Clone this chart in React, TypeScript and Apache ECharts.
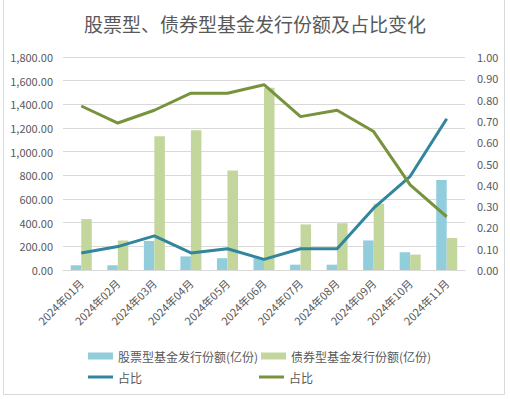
import React, { useEffect, useRef } from "react";
import * as echarts from "echarts";

const categories = [
  "2024年01月", "2024年02月", "2024年03月", "2024年04月", "2024年05月", "2024年06月",
  "2024年07月", "2024年08月", "2024年09月", "2024年10月", "2024年11月",
];
const stockShares = [40, 40, 245, 115, 100, 100, 45, 45, 250, 150, 760];
const bondShares = [430, 250, 1130, 1180, 840, 1540, 385, 395, 560, 130, 270];
const stockRatio = [0.08, 0.11, 0.16, 0.08, 0.1, 0.05, 0.1, 0.1, 0.29, 0.44, 0.71];
const bondRatio = [0.77, 0.69, 0.75, 0.83, 0.83, 0.87, 0.72, 0.75, 0.65, 0.4, 0.25];

const titleText = "股票型、债券型基金发行份额及占比变化";
const stockName = "股票型基金发行份额(亿份)";
const bondName = "债券型基金发行份额(亿份)";
const stockRatioName = "股票型占比";
const bondRatioName = "债券型占比";

const FONT = "'Noto Sans CJK SC', 'Noto Sans', sans-serif";
const TXT = "#595959";

export default function App() {
  const ref = useRef<HTMLDivElement>(null);
  useEffect(() => {
    document.body.style.margin = "0";
    const chart = echarts.init(ref.current!, null, { renderer: "svg" });
    const legendCommon = {
      padding: 0,
      itemWidth: 25,
      textStyle: { color: TXT, fontSize: 12, fontFamily: FONT },
      formatter: (n: string) => (n === stockRatioName || n === bondRatioName ? "占比" : n),
      selectedMode: false,
    };
    chart.setOption({
      animation: false,
      textStyle: { fontFamily: FONT },
      title: {
        text: titleText,
        left: "center",
        top: 14,
        padding: 0,
        textStyle: { color: TXT, fontSize: 19, fontWeight: "normal", fontFamily: FONT },
      },
      graphic: [
        {
          type: "rect",
          shape: { x: 3.5, y: -5, width: 501, height: 399.5 },
          style: { fill: "none", stroke: "#D9D9D9", lineWidth: 1 },
          silent: true,
        },
      ],
      legend: [
        { ...legendCommon, data: [{ name: stockName, icon: "rect" }], left: 88, top: 350, itemHeight: 7 },
        { ...legendCommon, data: [{ name: bondName, icon: "rect" }], left: 261, top: 350, itemHeight: 7 },
        { ...legendCommon, data: [{ name: stockRatioName, icon: "rect" }], left: 88, top: 371, itemHeight: 3 },
        { ...legendCommon, data: [{ name: bondRatioName, icon: "rect" }], left: 259, top: 371, itemHeight: 3 },
      ],
      grid: { left: 63, right: 45, top: 57, bottom: 129, containLabel: false },
      xAxis: {
        type: "category",
        data: categories,
        axisTick: { show: false },
        axisLine: { show: true, lineStyle: { color: "#D9D9D9" } },
        axisLabel: { rotate: 45, color: TXT, fontSize: 11, fontFamily: FONT, interval: 0, margin: 11 },
      },
      yAxis: [
        {
          type: "value",
          min: 0,
          max: 1800,
          interval: 200,
          axisLine: { show: false },
          axisTick: { show: false },
          splitLine: { lineStyle: { color: "#D9D9D9" } },
          axisLabel: {
            color: TXT,
            fontSize: 11,
            fontFamily: FONT,
            margin: 10,
            formatter: (v: number) =>
              v.toLocaleString("en-US", { minimumFractionDigits: 2, maximumFractionDigits: 2 }),
          },
        },
        {
          type: "value",
          min: 0,
          max: 1,
          interval: 0.1,
          axisLine: { show: false },
          axisTick: { show: false },
          splitLine: { show: false },
          axisLabel: {
            color: TXT,
            fontSize: 11,
            fontFamily: FONT,
            margin: 12,
            formatter: (v: number) => v.toFixed(2),
          },
        },
      ],
      series: [
        {
          name: stockName,
          type: "bar",
          data: stockShares,
          barWidth: 10.5,
          barGap: "0%",
          itemStyle: { color: "#92CDDC" },
        },
        {
          name: bondName,
          type: "bar",
          data: bondShares,
          barWidth: 10.5,
          barGap: "0%",
          itemStyle: { color: "#C3D69B" },
        },
        {
          name: stockRatioName,
          type: "line",
          yAxisIndex: 1,
          data: stockRatio,
          showSymbol: false,
          symbol: "none",
          lineStyle: { color: "#31859C", width: 3 },
          itemStyle: { color: "#31859C" },
        },
        {
          name: bondRatioName,
          type: "line",
          yAxisIndex: 1,
          data: bondRatio,
          showSymbol: false,
          symbol: "none",
          lineStyle: { color: "#77933C", width: 3 },
          itemStyle: { color: "#77933C" },
        },
      ],
    });
    return () => chart.dispose();
  }, []);
  return <div ref={ref} style={{ width: 510, height: 399, position: "absolute", left: 0, top: 0 }} />;
}
